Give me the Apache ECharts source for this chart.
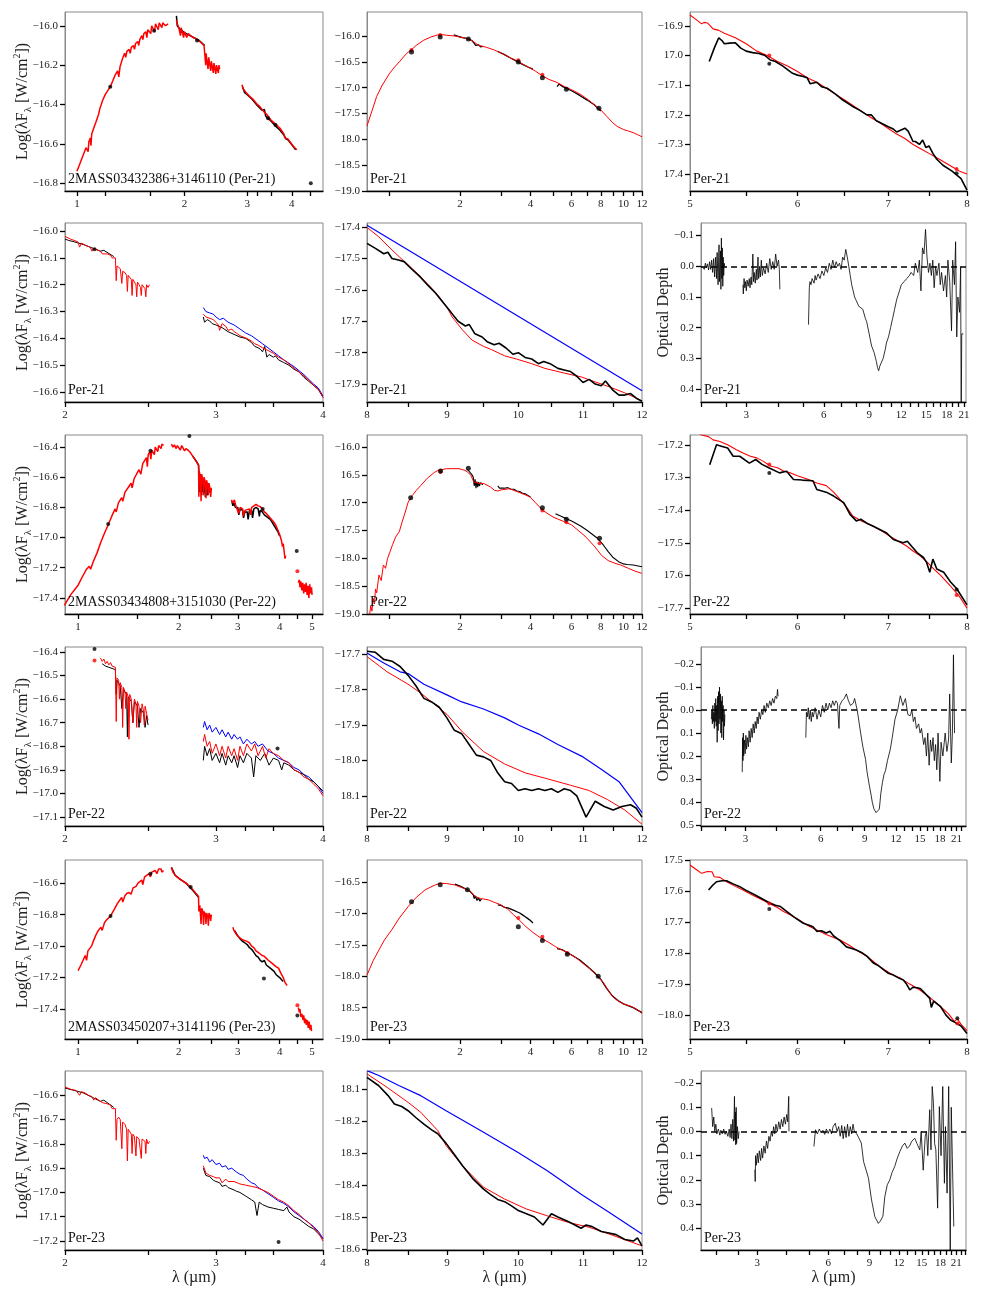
<!DOCTYPE html>
<html>
<head>
<meta charset="utf-8">
<script src="https://cdn.jsdelivr.net/npm/echarts@6/dist/echarts.min.js"></script>
<style>html,body{margin:0;padding:0;background:#fff}#chart{width:981px;height:1297px}</style>
</head>
<body>
<div id="chart"></div>
<script>
// x tick positions / labels (micron)
var nirTicks = [1, 1.2, 1.6, 2, 3, 3.2, 3.5, 4, 4.5];
var nirLabels = [1, 2, 3, 4];
var nir5Ticks = [1, 1.5, 2, 2.5, 3, 4, 4.5, 5];
var nir5Labels = [1, 2, 3, 4, 5];
var sedTicks = [1, 2, 3, 4, 5, 6, 7, 8, 9, 10, 11, 12];
var sedLabels = [2, 4, 6, 8, 10, 12];
var lmTicks = [2, 2.5, 3, 3.25, 3.5, 4];
var lmLabels = [2, 3, 4];
var siTicks = [8, 8.5, 9, 9.5, 10, 10.5, 11, 11.5, 12];
var siLabels = [8, 9, 10, 11, 12];
var mirTicks = [5, 5.5, 6, 6.5, 7, 7.5, 8];
var mirLabels = [5, 6, 7, 8];
var tauTicks = [2, 2.5, 3, 4, 5, 6, 7, 8, 9, 10, 11, 12, 13, 14, 15, 16, 17, 18, 19, 20, 21, 22, 23];
var tauLabels = [3, 6, 9, 12, 15, 18, 21];

var tags = ['2MASS03432386+3146110 (Per-21)', 'Per-21', '2MASS03434808+3151030 (Per-22)', 'Per-22',
            '2MASS03450207+3141196 (Per-23)', 'Per-23'];

// ===== Per-21 =====
var p21NirRed = [
  [1.00,-16.74, 1.02,-16.70, 1.04,-16.66, 1.05,-16.64, 1.06,-16.62, 1.07,-16.61, 1.075,-16.64, 1.08,-16.59, 1.09,-16.57, 1.095,-16.61,
   1.10,-16.55, 1.11,-16.53, 1.12,-16.51, 1.13,-16.49, 1.14,-16.47, 1.15,-16.45, 1.16,-16.42, 1.17,-16.40, 1.18,-16.38, 1.19,-16.37,
   1.20,-16.35, 1.22,-16.33, 1.24,-16.31, 1.26,-16.28, 1.28,-16.25, 1.30,-16.23, 1.31,-16.26, 1.32,-16.21, 1.33,-16.19, 1.34,-16.17,
   1.35,-16.155, 1.36,-16.14, 1.37,-16.16, 1.38,-16.13, 1.40,-16.12, 1.41,-16.14, 1.42,-16.11, 1.44,-16.10, 1.45,-16.12, 1.46,-16.09,
   1.48,-16.08, 1.49,-16.10, 1.50,-16.07, 1.52,-16.05, 1.53,-16.07, 1.54,-16.04, 1.56,-16.03, 1.57,-16.06, 1.58,-16.02, 1.60,-16.01,
   1.61,-16.04, 1.62,-16.00, 1.64,-15.99, 1.65,-16.03, 1.66,-15.99, 1.68,-15.985, 1.69,-16.02, 1.70,-15.985, 1.72,-15.98, 1.73,-16.01,
   1.74,-15.985, 1.76,-15.98, 1.77,-16.0, 1.78,-15.99, 1.80,-15.99],
  [1.90,-15.97, 1.91,-15.99, 1.92,-16.0, 1.93,-16.01, 1.94,-16.0, 1.95,-16.05, 1.96,-16.01, 1.98,-16.02, 1.99,-16.06, 2.0,-16.03,
   2.02,-16.035, 2.03,-16.06, 2.05,-16.04, 2.08,-16.05, 2.10,-16.055, 2.12,-16.06, 2.15,-16.065, 2.18,-16.075, 2.21,-16.08, 2.24,-16.09,
   2.27,-16.10, 2.29,-16.105, 2.295,-16.20, 2.30,-16.14, 2.32,-16.15, 2.33,-16.22, 2.34,-16.16, 2.36,-16.17, 2.37,-16.23, 2.38,-16.18,
   2.40,-16.19, 2.41,-16.24, 2.42,-16.19, 2.44,-16.20, 2.45,-16.245, 2.46,-16.20, 2.48,-16.21, 2.49,-16.24, 2.50,-16.20, 2.51,-16.22],
  [2.90,-16.30, 2.92,-16.32, 2.95,-16.33, 2.98,-16.34, 3.0,-16.345, 3.05,-16.36, 3.08,-16.365, 3.1,-16.37, 3.15,-16.385, 3.2,-16.40,
   3.25,-16.41, 3.3,-16.425, 3.35,-16.44, 3.4,-16.45, 3.45,-16.465, 3.5,-16.48, 3.55,-16.49, 3.6,-16.5, 3.65,-16.51, 3.7,-16.52,
   3.75,-16.535, 3.8,-16.55, 3.82,-16.57, 3.85,-16.56, 3.9,-16.575, 3.95,-16.59, 4.0,-16.60, 4.05,-16.615, 4.1,-16.625, 4.13,-16.63]
];
var p21NirBlack = [
  [1.90,-15.95, 1.91,-16.0, 1.95,-16.02, 2.0,-16.035, 2.1,-16.055, 2.2,-16.075, 2.28,-16.10],
  [2.91,-16.31, 2.95,-16.34, 3.0,-16.35, 3.1,-16.375, 3.2,-16.405, 3.3,-16.43, 3.35,-16.425, 3.38,-16.46, 3.42,-16.47, 3.45,-16.475,
   3.5,-16.485, 3.6,-16.51, 3.7,-16.53, 3.8,-16.555, 3.85,-16.575, 3.9,-16.58, 4.0,-16.605, 4.1,-16.63]
];
var p21NirDots = [1.24,-16.31, 1.645,-16.025, 2.17,-16.075, 3.43,-16.47, 3.6,-16.505, 4.52,-16.80];

var p21SedRed = [0.80,-17.74, 0.84,-17.45, 0.88,-17.17, 0.93,-16.95, 1.0,-16.72, 1.05,-16.60, 1.1,-16.50, 1.18,-16.34, 1.25,-16.25,
  1.3,-16.18, 1.4,-16.08, 1.5,-16.02, 1.6,-15.98, 1.66,-15.97, 1.75,-15.985, 1.9,-16.0, 2.0,-16.02, 2.1,-16.04, 2.2,-16.065, 2.3,-16.12,
  2.4,-16.18, 2.5,-16.2, 2.6,-16.22, 2.8,-16.27, 3.0,-16.33, 3.2,-16.40, 3.5,-16.48, 3.8,-16.57, 4.0,-16.625, 4.2,-16.68, 4.5,-16.77,
  4.8,-16.84, 5.2,-16.90, 5.6,-16.98, 6.0,-17.04, 6.5,-17.12, 7.0,-17.22, 7.5,-17.33, 8.0,-17.43, 8.5,-17.56, 9.0,-17.68, 9.4,-17.75,
  10.0,-17.81, 10.5,-17.84, 11.0,-17.87, 11.5,-17.91, 12.0,-17.95];
var p21SedBlack = [
  [1.88,-15.98, 1.95,-16.0, 2.05,-16.03, 2.15,-16.05, 2.25,-16.09, 2.3,-16.14, 2.33,-16.18, 2.36,-16.2, 2.4,-16.17, 2.45,-16.21, 2.5,-16.2],
  [2.9,-16.3, 3.1,-16.36, 3.3,-16.43, 3.5,-16.49, 3.7,-16.55, 3.9,-16.6, 4.1,-16.64],
  [5.2,-16.98, 5.3,-16.93, 5.5,-16.98, 6.0,-17.06, 6.5,-17.15, 7.0,-17.24, 7.5,-17.33, 8.0,-17.45]
];
var p21SedDots = [1.24,-16.31, 1.645,-16.02, 2.17,-16.06, 3.55,-16.505, 4.5,-16.81, 5.7,-17.03, 7.85,-17.40];
var p21SedModelDots = [1.24,-16.27, 1.645,-15.98, 3.55,-16.47, 4.5,-16.75];

var p21MirRed = [5.0,-16.863, 5.05,-16.878, 5.1,-16.893, 5.12,-16.888, 5.15,-16.89, 5.2,-16.91, 5.25,-16.915, 5.3,-16.925, 5.4,-16.94,
  5.5,-16.96, 5.6,-16.985, 5.7,-17.0, 5.8,-17.02, 5.9,-17.035, 6.0,-17.054, 6.1,-17.075, 6.2,-17.09, 6.3,-17.11, 6.4,-17.13, 6.5,-17.15,
  6.6,-17.17, 6.7,-17.19, 6.8,-17.21, 6.9,-17.227, 7.0,-17.246, 7.1,-17.265, 7.2,-17.28, 7.3,-17.30, 7.4,-17.315, 7.5,-17.33, 7.6,-17.345,
  7.7,-17.36, 7.8,-17.375, 7.9,-17.39, 8.0,-17.40];
var p21MirBlack = [5.166,-17.02, 5.21,-16.975, 5.25,-16.94, 5.28,-16.95, 5.3,-16.96, 5.35,-16.958, 5.4,-16.957, 5.45,-16.975, 5.5,-16.985,
  5.56,-16.99, 5.62,-16.993, 5.68,-17.0, 5.73,-17.015, 5.78,-17.02, 5.85,-17.035, 5.89,-17.045, 5.95,-17.06, 6.0,-17.066, 6.05,-17.07,
  6.1,-17.075, 6.13,-17.095, 6.2,-17.09, 6.25,-17.105, 6.31,-17.11, 6.4,-17.13, 6.48,-17.15, 6.58,-17.17, 6.67,-17.185, 6.75,-17.2,
  6.8,-17.2, 6.86,-17.22, 6.93,-17.23, 7.0,-17.24, 7.06,-17.248, 7.1,-17.258, 7.16,-17.25, 7.2,-17.245, 7.24,-17.255, 7.3,-17.29,
  7.33,-17.29, 7.38,-17.3, 7.42,-17.285, 7.46,-17.31, 7.5,-17.305, 7.55,-17.33, 7.6,-17.35, 7.68,-17.37, 7.8,-17.39, 7.92,-17.415, 8.0,-17.454];
var p21MirDots = [5.72,-17.028, 7.86,-17.397];
var p21MirModelDots = [5.72,-17.0, 7.86,-17.383];

var p21LmRed = [
  [2.0,-16.02, 2.03,-16.03, 2.05,-16.035, 2.07,-16.04, 2.08,-16.06, 2.09,-16.045, 2.1,-16.05, 2.12,-16.055, 2.14,-16.06, 2.15,-16.075,
   2.16,-16.065, 2.18,-16.07, 2.2,-16.075, 2.21,-16.085, 2.22,-16.08, 2.24,-16.085, 2.26,-16.09, 2.27,-16.1, 2.28,-16.095, 2.29,-16.1,
   2.295,-16.185, 2.30,-16.13, 2.31,-16.135, 2.32,-16.14, 2.33,-16.195, 2.335,-16.15, 2.35,-16.155, 2.36,-16.165, 2.365,-16.225, 2.37,-16.165,
   2.38,-16.17, 2.39,-16.18, 2.395,-16.24, 2.40,-16.18, 2.41,-16.19, 2.42,-16.2, 2.425,-16.245, 2.43,-16.19, 2.44,-16.2, 2.45,-16.21,
   2.455,-16.24, 2.46,-16.2, 2.47,-16.205, 2.48,-16.215, 2.485,-16.245, 2.49,-16.2, 2.5,-16.21, 2.51,-16.2],
  [2.9,-16.31, 2.92,-16.32, 2.95,-16.325, 2.98,-16.33, 3.0,-16.34, 3.02,-16.35, 3.03,-16.37, 3.05,-16.345, 3.08,-16.355, 3.1,-16.37,
   3.13,-16.365, 3.15,-16.375, 3.17,-16.38, 3.2,-16.39, 3.23,-16.395, 3.26,-16.4, 3.3,-16.41, 3.33,-16.42, 3.36,-16.425, 3.4,-16.435,
   3.45,-16.445, 3.5,-16.455, 3.55,-16.47, 3.6,-16.48, 3.65,-16.495, 3.7,-16.51, 3.75,-16.525, 3.8,-16.54, 3.85,-16.555, 3.9,-16.575,
   3.92,-16.58, 3.95,-16.59, 3.97,-16.6, 4.0,-16.62]
];
var p21LmBlue = [2.9,-16.285, 2.92,-16.30, 2.95,-16.305, 2.98,-16.31, 3.0,-16.32, 3.03,-16.33, 3.06,-16.325, 3.1,-16.34, 3.15,-16.35,
  3.2,-16.365, 3.25,-16.38, 3.3,-16.39, 3.35,-16.405, 3.4,-16.42, 3.45,-16.435, 3.5,-16.45, 3.55,-16.465, 3.6,-16.48, 3.7,-16.505,
  3.8,-16.535, 3.9,-16.57, 3.95,-16.585, 4.0,-16.615];
var p21LmBlack = [
  [2.0,-16.03, 2.02,-16.035, 2.05,-16.04, 2.1,-16.05, 2.2,-16.075, 2.22,-16.072, 2.28,-16.095],
  [2.9,-16.32, 2.91,-16.34, 2.93,-16.33, 2.95,-16.335, 2.97,-16.345, 3.0,-16.35, 3.05,-16.36, 3.1,-16.375, 3.15,-16.385, 3.2,-16.395,
   3.25,-16.4, 3.3,-16.415, 3.33,-16.43, 3.36,-16.435, 3.38,-16.44, 3.4,-16.45, 3.42,-16.43, 3.44,-16.47, 3.46,-16.46, 3.5,-16.47,
   3.52,-16.465, 3.55,-16.48, 3.6,-16.49, 3.65,-16.5, 3.7,-16.515, 3.75,-16.525, 3.8,-16.545, 3.85,-16.56, 3.9,-16.575, 3.92,-16.57,
   3.95,-16.59, 4.0,-16.62]
];
var p21LmDots = [2.165,-16.068];

var p21SiBlue = [8.0,-17.394, 12.0,-17.921];
var p21SiRed = [8.0,-17.401, 8.14,-17.431, 8.25,-17.46, 8.39,-17.495, 8.5,-17.52, 8.66,-17.558, 8.8,-17.595, 8.88,-17.616, 9.0,-17.655,
  9.07,-17.686, 9.2,-17.725, 9.34,-17.76, 9.5,-17.78, 9.61,-17.79, 9.8,-17.81, 9.97,-17.82, 10.2,-17.835, 10.4,-17.85, 10.7,-17.865,
  10.97,-17.877, 11.2,-17.893, 11.44,-17.909, 11.7,-17.928, 12.0,-17.953];
var p21SiBlack = [8.0,-17.452, 8.1,-17.468, 8.2,-17.485, 8.25,-17.48, 8.3,-17.5, 8.38,-17.505, 8.45,-17.51, 8.55,-17.535, 8.65,-17.558,
  8.75,-17.585, 8.85,-17.61, 8.95,-17.64, 9.05,-17.67, 9.15,-17.70, 9.25,-17.715, 9.3,-17.71, 9.38,-17.74, 9.48,-17.75, 9.55,-17.765,
  9.65,-17.775, 9.72,-17.77, 9.82,-17.785, 9.92,-17.805, 10.0,-17.8, 10.1,-17.815, 10.2,-17.82, 10.3,-17.835, 10.38,-17.828,
  10.48,-17.835, 10.6,-17.85, 10.7,-17.855, 10.8,-17.86, 10.9,-17.875, 11.0,-17.895, 11.1,-17.885, 11.2,-17.9, 11.3,-17.905,
  11.37,-17.89, 11.5,-17.92, 11.6,-17.935, 11.7,-17.935, 11.8,-17.93, 11.9,-17.945, 12.0,-17.955];

var p21Tau = [
  [2.02,0.0, 2.04,-0.005, 2.06,0.01, 2.08,-0.01, 2.1,0.005, 2.12,-0.008, 2.14,0.012, 2.16,-0.015, 2.18,0.01, 2.2,-0.02, 2.22,0.02,
   2.24,-0.025, 2.26,0.035, 2.28,-0.03, 2.3,0.04, 2.31,-0.045, 2.33,0.06, 2.35,-0.07, 2.36,0.05, 2.38,-0.05, 2.39,0.075, 2.4,-0.092,
   2.41,0.04, 2.42,-0.06, 2.43,0.065, 2.44,-0.03, 2.45,0.03, 2.46,-0.01, 2.47,0.0],
  [2.91,0.06, 2.92,0.09, 2.94,0.04, 2.96,0.07, 2.98,0.05, 3.0,0.08, 3.02,0.045, 3.05,0.065, 3.08,0.04, 3.1,0.07, 3.13,0.035, 3.15,0.06,
   3.18,-0.04, 3.2,0.05, 3.22,0.02, 3.25,0.055, 3.28,0.01, 3.3,0.045, 3.33,-0.03, 3.35,0.04, 3.38,0.0, 3.4,0.035, 3.43,-0.02, 3.46,0.03,
   3.5,0.005, 3.55,0.025, 3.6,-0.01, 3.65,0.02, 3.7,-0.025, 3.75,0.01, 3.8,-0.015, 3.85,0.01, 3.9,-0.04, 3.95,0.0, 4.0,-0.02, 4.03,0.01, 4.05,0.075],
  [5.23,0.19, 5.27,0.07, 5.3,0.05, 5.35,0.06, 5.4,0.04, 5.5,0.055, 5.55,0.03, 5.6,0.045, 5.7,0.025, 5.8,0.04, 5.9,0.015, 6.0,0.03,
   6.1,0.005, 6.2,0.02, 6.3,-0.01, 6.4,0.01, 6.5,-0.02, 6.6,0.005, 6.7,-0.015, 6.8,0.0, 6.9,-0.01, 7.0,0.01, 7.1,-0.03, 7.2,-0.02,
   7.3,-0.055, 7.4,-0.03, 7.5,0.0, 7.6,0.03, 7.7,0.06, 7.8,0.08, 7.9,0.1, 8.0,0.11, 8.1,0.12, 8.2,0.13, 8.3,0.125, 8.5,0.14, 8.7,0.17,
   8.8,0.18, 9.0,0.22, 9.2,0.26, 9.4,0.28, 9.6,0.31, 9.7,0.33, 9.8,0.34, 9.9,0.325, 10.0,0.33, 10.2,0.3, 10.4,0.27, 10.5,0.25, 10.7,0.23,
   10.9,0.2, 11.1,0.17, 11.3,0.14, 11.5,0.11, 11.8,0.08, 12.0,0.06, 12.3,0.05, 12.6,0.04, 12.9,0.03, 13.1,0.02, 13.4,0.03, 13.6,-0.01,
   13.9,0.02, 14.1,-0.02, 14.3,0.08, 14.5,-0.06, 14.7,-0.04, 14.9,-0.12, 15.1,-0.03, 15.3,0.02, 15.5,-0.01, 15.7,0.03, 15.9,-0.02,
   16.1,0.07, 16.3,0.0, 16.5,0.03, 16.8,-0.01, 17.0,0.06, 17.2,0.02, 17.5,0.08, 17.8,0.03, 18.0,0.1, 18.2,-0.02, 18.5,0.05, 18.8,0.21,
   19.0,-0.02, 19.3,0.06, 19.5,-0.08, 19.7,0.23, 19.9,0.1, 20.2,0.15, 20.4,0.0, 20.5,0.5, 20.6,0.22, 20.9,0.22]
];

// ===== Per-22 =====
var p22NirRed = [
  [0.91,-17.45, 0.95,-17.38, 1.0,-17.316, 1.03,-17.26, 1.06,-17.21, 1.08,-17.19, 1.09,-17.21, 1.11,-17.16, 1.14,-17.1, 1.17,-17.03,
   1.2,-16.97, 1.23,-16.915, 1.26,-16.86, 1.29,-16.81, 1.3,-16.83, 1.32,-16.77, 1.35,-16.735, 1.36,-16.76, 1.38,-16.7, 1.41,-16.67,
   1.44,-16.64, 1.45,-16.67, 1.47,-16.61, 1.49,-16.6, 1.52,-16.55, 1.54,-16.58, 1.56,-16.51, 1.58,-16.49, 1.6,-16.47, 1.61,-16.53,
   1.62,-16.45, 1.64,-16.43, 1.65,-16.48, 1.66,-16.42, 1.68,-16.41, 1.69,-16.45, 1.7,-16.4, 1.72,-16.4, 1.73,-16.43, 1.74,-16.39,
   1.76,-16.385, 1.77,-16.41, 1.78,-16.38, 1.8,-16.39],
  [1.9,-16.38, 1.92,-16.4, 1.94,-16.385, 1.96,-16.41, 1.98,-16.39, 2.0,-16.395, 2.02,-16.42, 2.04,-16.39, 2.06,-16.4, 2.08,-16.425,
   2.1,-16.41, 2.13,-16.42, 2.15,-16.43, 2.17,-16.44, 2.2,-16.46, 2.23,-16.48, 2.26,-16.5, 2.29,-16.52, 2.295,-16.73, 2.3,-16.56,
   2.32,-16.6, 2.33,-16.76, 2.34,-16.58, 2.36,-16.62, 2.37,-16.72, 2.38,-16.6, 2.4,-16.64, 2.41,-16.74, 2.42,-16.62, 2.44,-16.66,
   2.45,-16.72, 2.46,-16.64, 2.48,-16.68, 2.49,-16.73, 2.5,-16.67],
  [2.87,-16.75, 2.9,-16.77, 2.93,-16.75, 2.96,-16.79, 3.0,-16.79, 3.02,-16.84, 3.05,-16.8, 3.1,-16.81, 3.12,-16.86, 3.15,-16.82,
   3.2,-16.815, 3.25,-16.81, 3.28,-16.85, 3.3,-16.8, 3.35,-16.79, 3.4,-16.78, 3.45,-16.79, 3.5,-16.795, 3.55,-16.81, 3.6,-16.83,
   3.65,-16.84, 3.7,-16.855, 3.75,-16.87, 3.8,-16.885, 3.85,-16.9, 3.9,-16.92, 3.95,-16.95, 4.0,-16.98, 4.05,-17.02, 4.08,-17.06,
   4.1,-17.04, 4.13,-17.1, 4.15,-17.14, 4.17,-17.12],
  [4.55,-17.3, 4.58,-17.28, 4.6,-17.33, 4.63,-17.29, 4.66,-17.35, 4.69,-17.3, 4.72,-17.37, 4.75,-17.31, 4.78,-17.36, 4.8,-17.3,
   4.83,-17.38, 4.86,-17.32, 4.89,-17.4, 4.92,-17.31, 4.95,-17.37, 4.98,-17.33, 5.0,-17.38]
];
var p22NirBlack = [
  [2.2,-16.46, 2.25,-16.49, 2.29,-16.52, 2.3,-16.6, 2.31,-16.7, 2.32,-16.58, 2.34,-16.72, 2.35,-16.6, 2.37,-16.7, 2.38,-16.61,
   2.4,-16.73, 2.42,-16.63, 2.43,-16.72, 2.45,-16.64, 2.47,-16.7, 2.5,-16.68],
  [2.88,-16.76, 2.9,-16.79, 2.92,-16.77, 2.95,-16.8, 3.0,-16.8, 3.02,-16.85, 3.05,-16.81, 3.1,-16.82, 3.12,-16.87, 3.15,-16.83,
   3.2,-16.83, 3.22,-16.88, 3.25,-16.82, 3.3,-16.82, 3.32,-16.87, 3.35,-16.81, 3.4,-16.8, 3.45,-16.81, 3.48,-16.86, 3.5,-16.82,
   3.55,-16.83, 3.6,-16.85, 3.65,-16.86, 3.7,-16.87, 3.75,-16.88, 3.8,-16.9, 3.85,-16.92, 3.9,-16.94, 3.95,-16.96, 4.0,-16.99]
];
var p22NirDots = [1.23,-16.91, 1.645,-16.425, 2.15,-16.326, 3.56,-16.81, 4.5,-17.09];
var p22NirModelDots = [4.52,-17.223];

var p22SedRed = [0.81,-19.2, 0.83,-18.85, 0.84,-18.95, 0.85,-18.72, 0.86,-18.82, 0.87,-18.55, 0.88,-18.62, 0.9,-18.3, 0.92,-18.4,
  0.94,-18.12, 0.96,-18.18, 0.98,-18.0, 1.0,-17.9, 1.03,-17.75, 1.06,-17.62, 1.1,-17.52, 1.13,-17.35, 1.16,-17.2, 1.2,-16.99,
  1.25,-16.87, 1.3,-16.78, 1.36,-16.69, 1.45,-16.56, 1.55,-16.46, 1.61,-16.42, 1.75,-16.39, 1.98,-16.39, 2.1,-16.42, 2.15,-16.45,
  2.22,-16.5, 2.29,-16.63, 2.4,-16.65, 2.54,-16.66, 2.7,-16.72, 2.81,-16.78, 2.9,-16.79, 3.0,-16.77, 3.25,-16.75, 3.5,-16.8,
  3.8,-16.86, 3.99,-16.9, 4.2,-17.0, 4.52,-17.14, 5.0,-17.26, 5.56,-17.34, 6.0,-17.4, 6.84,-17.6, 7.5,-17.78, 8.07,-17.95,
  8.6,-18.04, 9.2,-18.09, 9.73,-18.12, 10.5,-18.18, 11.2,-18.23, 11.97,-18.27];
var p22SedBlack = [
  [2.15,-16.4, 2.2,-16.45, 2.25,-16.5, 2.28,-16.55, 2.3,-16.7, 2.32,-16.58, 2.34,-16.74, 2.36,-16.62, 2.38,-16.72, 2.4,-16.63,
   2.42,-16.7, 2.45,-16.64, 2.5,-16.68],
  [2.9,-16.7, 2.95,-16.74, 3.0,-16.72, 3.1,-16.74, 3.2,-16.73, 3.3,-16.76, 3.4,-16.76, 3.5,-16.79, 3.6,-16.8, 3.7,-16.83, 3.8,-16.84,
   3.9,-16.87, 4.0,-16.9],
  [5.12,-17.2, 5.5,-17.26, 6.0,-17.33, 6.56,-17.42, 7.0,-17.5, 7.74,-17.64, 8.2,-17.76, 8.6,-17.88, 9.0,-17.98, 9.53,-18.06,
   10.0,-18.1, 10.35,-18.11, 11.0,-18.12, 12.0,-18.15]
];
var p22SedDots = [1.23,-16.91, 1.65,-16.43, 2.17,-16.38, 4.5,-17.09, 5.7,-17.30, 7.9,-17.64];
var p22SedModelDots = [1.65,-16.45, 4.5,-17.14, 5.7,-17.35, 7.9,-17.73];

var p22MirRed = [5.0,-17.15, 5.1,-17.17, 5.16,-17.175, 5.2,-17.185, 5.26,-17.19, 5.33,-17.2, 5.41,-17.215, 5.47,-17.225, 5.54,-17.235,
  5.6,-17.24, 5.66,-17.25, 5.73,-17.265, 5.8,-17.27, 5.86,-17.28, 5.93,-17.286, 6.0,-17.295, 6.1,-17.305, 6.2,-17.317, 6.3,-17.325,
  6.38,-17.345, 6.45,-17.367, 6.52,-17.39, 6.59,-17.418, 6.7,-17.435, 6.83,-17.45, 6.93,-17.465, 7.02,-17.48, 7.12,-17.495, 7.22,-17.51,
  7.3,-17.525, 7.39,-17.54, 7.48,-17.56, 7.56,-17.58, 7.65,-17.6, 7.77,-17.63, 7.9,-17.665, 8.0,-17.7];
var p22MirBlack = [5.17,-17.261, 5.23,-17.2, 5.28,-17.205, 5.33,-17.21, 5.38,-17.235, 5.44,-17.235, 5.53,-17.256, 5.59,-17.245,
  5.65,-17.26, 5.72,-17.271, 5.82,-17.286, 5.89,-17.281, 5.96,-17.306, 6.05,-17.308, 6.16,-17.31, 6.2,-17.337, 6.3,-17.345, 6.38,-17.357,
  6.49,-17.377, 6.56,-17.413, 6.63,-17.433, 6.68,-17.428, 6.75,-17.44, 6.83,-17.45, 6.98,-17.47, 7.06,-17.49, 7.12,-17.495, 7.18,-17.5,
  7.23,-17.495, 7.28,-17.51, 7.35,-17.53, 7.43,-17.545, 7.47,-17.56, 7.51,-17.59, 7.55,-17.55, 7.6,-17.58, 7.69,-17.59, 7.78,-17.62,
  7.86,-17.64, 8.0,-17.69];
var p22MirDots = [5.72,-17.286, 7.86,-17.643];
var p22MirModelDots = [5.72,-17.26, 7.86,-17.66];

var p22LmRed = [
  [2.2,-16.426, 2.21,-16.44, 2.22,-16.43, 2.23,-16.45, 2.24,-16.44, 2.25,-16.455, 2.26,-16.445, 2.27,-16.46, 2.28,-16.455, 2.29,-16.465,
   2.295,-16.695, 2.3,-16.51, 2.31,-16.52, 2.315,-16.6, 2.32,-16.53, 2.33,-16.55, 2.335,-16.72, 2.34,-16.55, 2.35,-16.57, 2.355,-16.64,
   2.36,-16.57, 2.37,-16.59, 2.375,-16.77, 2.38,-16.58, 2.39,-16.6, 2.4,-16.7, 2.41,-16.6, 2.42,-16.62, 2.425,-16.72, 2.43,-16.61,
   2.44,-16.63, 2.45,-16.7, 2.46,-16.62, 2.47,-16.65, 2.475,-16.71, 2.48,-16.63, 2.49,-16.66, 2.5,-16.69],
  [2.9,-16.78, 2.91,-16.75, 2.93,-16.8, 2.95,-16.78, 2.97,-16.83, 3.0,-16.79, 3.03,-16.84, 3.05,-16.8, 3.08,-16.85, 3.1,-16.8,
   3.13,-16.84, 3.15,-16.81, 3.18,-16.86, 3.2,-16.8, 3.23,-16.84, 3.26,-16.79, 3.3,-16.82, 3.33,-16.79, 3.36,-16.84, 3.4,-16.8,
   3.43,-16.85, 3.46,-16.81, 3.5,-16.83, 3.55,-16.84, 3.6,-16.86, 3.65,-16.87, 3.7,-16.9, 3.75,-16.91, 3.8,-16.93, 3.85,-16.94,
   3.9,-16.96, 3.95,-16.98, 4.0,-17.01]
];
var p22LmBlue = [2.9,-16.72, 2.91,-16.695, 2.93,-16.73, 2.95,-16.71, 2.97,-16.74, 3.0,-16.72, 3.03,-16.75, 3.05,-16.73, 3.08,-16.76,
  3.1,-16.74, 3.13,-16.77, 3.15,-16.75, 3.18,-16.77, 3.2,-16.76, 3.23,-16.79, 3.26,-16.77, 3.3,-16.79, 3.33,-16.78, 3.36,-16.8,
  3.4,-16.79, 3.45,-16.82, 3.5,-16.83, 3.55,-16.85, 3.6,-16.86, 3.65,-16.87, 3.7,-16.89, 3.75,-16.9, 3.8,-16.92, 3.85,-16.93,
  3.9,-16.95, 3.95,-16.97, 4.0,-17.0];
var p22LmBlack = [
  [2.21,-16.45, 2.23,-16.46, 2.25,-16.465, 2.27,-16.47, 2.29,-16.475, 2.295,-16.58, 2.3,-16.52, 2.32,-16.545, 2.33,-16.64, 2.34,-16.56,
   2.36,-16.58, 2.365,-16.76, 2.37,-16.59, 2.39,-16.61, 2.4,-16.7, 2.41,-16.61, 2.43,-16.63, 2.44,-16.72, 2.45,-16.64, 2.47,-16.66,
   2.48,-16.72, 2.49,-16.67, 2.5,-16.71],
  [2.9,-16.86, 2.91,-16.8, 2.93,-16.84, 2.95,-16.81, 2.97,-16.86, 3.0,-16.83, 3.03,-16.87, 3.05,-16.83, 3.08,-16.88, 3.1,-16.84,
   3.13,-16.87, 3.15,-16.84, 3.18,-16.89, 3.2,-16.84, 3.23,-16.87, 3.26,-16.83, 3.3,-16.85, 3.32,-16.93, 3.34,-16.84, 3.38,-16.86,
   3.42,-16.83, 3.46,-16.88, 3.5,-16.85, 3.55,-16.86, 3.58,-16.9, 3.6,-16.87, 3.65,-16.88, 3.7,-16.9, 3.75,-16.91, 3.8,-16.92,
   3.85,-16.94, 3.9,-16.95, 3.95,-16.97, 4.0,-16.99]
];
var p22LmDots = [2.165,-16.387, 3.54,-16.809];
var p22LmModelDots = [2.165,-16.436];

var p22SiBlue = [8.0,-17.697, 8.2,-17.725, 8.4,-17.75, 8.5,-17.755, 8.7,-17.785, 9.0,-17.815, 9.2,-17.835, 9.5,-17.855, 9.8,-17.88,
  10.0,-17.9, 10.3,-17.925, 10.6,-17.955, 11.0,-17.99, 11.3,-18.025, 11.6,-18.06, 12.0,-18.147];
var p22SiRed = [8.0,-17.707, 8.24,-17.75, 8.5,-17.785, 8.66,-17.81, 9.0,-17.87, 9.21,-17.92, 9.5,-17.975, 9.8,-18.01, 10.1,-18.035,
  10.4,-18.05, 10.8,-18.07, 11.1,-18.085, 11.4,-18.11, 11.7,-18.14, 12.0,-18.18];
var p22SiBlack = [8.0,-17.692, 8.1,-17.695, 8.2,-17.715, 8.3,-17.72, 8.4,-17.735, 8.5,-17.76, 8.6,-17.79, 8.7,-17.825, 8.8,-17.835,
  8.9,-17.85, 9.0,-17.88, 9.1,-17.915, 9.2,-17.925, 9.3,-17.955, 9.4,-17.985, 9.5,-17.99, 9.6,-18.0, 9.7,-18.035, 9.8,-18.06,
  9.9,-18.065, 10.0,-18.085, 10.1,-18.08, 10.2,-18.085, 10.3,-18.08, 10.4,-18.085, 10.5,-18.08, 10.6,-18.09, 10.7,-18.08, 10.8,-18.085,
  10.9,-18.1, 11.05,-18.16, 11.2,-18.115, 11.35,-18.13, 11.5,-18.14, 11.65,-18.13, 11.8,-18.125, 11.9,-18.135, 12.0,-18.16];

var p22Tau = [
  [2.19,0.04, 2.2,0.0, 2.21,0.06, 2.22,-0.02, 2.23,0.05, 2.24,0.01, 2.25,0.08, 2.26,-0.03, 2.27,0.05, 2.28,-0.05, 2.29,0.07, 2.3,-0.02,
   2.31,0.14, 2.32,-0.06, 2.33,0.09, 2.34,-0.08, 2.35,0.06, 2.36,-0.1, 2.37,0.04, 2.38,-0.07, 2.39,0.1, 2.4,-0.04, 2.41,0.12,
   2.42,-0.06, 2.43,0.05, 2.44,-0.02, 2.45,0.13, 2.46,0.0, 2.47,0.07, 2.48,0.02],
  [2.91,0.27, 2.92,0.12, 2.93,0.22, 2.94,0.1, 2.95,0.2, 2.97,0.13, 2.99,0.19, 3.01,0.11, 3.03,0.17, 3.05,0.12, 3.08,0.16, 3.1,0.09,
   3.13,0.14, 3.16,0.08, 3.19,0.12, 3.22,0.06, 3.25,0.1, 3.28,0.05, 3.31,0.08, 3.34,0.03, 3.37,0.06, 3.4,0.01, 3.44,0.04, 3.48,0.0,
   3.52,0.02, 3.56,-0.02, 3.6,0.01, 3.65,-0.03, 3.7,-0.01, 3.75,-0.04, 3.8,-0.02, 3.85,-0.05, 3.9,-0.03, 3.95,-0.06, 4.0,-0.05,
   4.03,-0.09, 4.05,-0.06],
  [5.23,0.12, 5.26,0.01, 5.3,0.03, 5.35,-0.01, 5.4,0.04, 5.45,0.0, 5.5,0.05, 5.55,0.01, 5.6,0.03, 5.7,-0.01, 5.8,0.04, 5.9,0.0,
   6.0,0.03, 6.1,-0.02, 6.2,0.01, 6.3,-0.03, 6.4,0.0, 6.5,-0.03, 6.6,-0.01, 6.7,-0.04, 6.8,-0.02, 6.9,-0.04, 7.0,-0.03, 7.1,0.08,
   7.15,-0.02, 7.3,-0.04, 7.45,-0.05, 7.6,-0.07, 7.75,-0.04, 7.9,-0.02, 8.1,-0.03, 8.2,-0.05, 8.4,0.0, 8.67,0.1, 8.85,0.16, 9.07,0.214,
   9.2,0.27, 9.4,0.33, 9.55,0.37, 9.65,0.40, 9.8,0.43, 10.0,0.446, 10.15,0.45, 10.3,0.43, 10.45,0.36, 10.6,0.315, 10.75,0.28,
   10.9,0.264, 11.1,0.22, 11.4,0.17, 11.6,0.12, 11.9,0.04, 12.2,0.0, 12.5,-0.062, 12.8,-0.02, 13.1,-0.05, 13.4,0.02, 13.7,0.025,
   13.9,0.0, 14.1,0.05, 14.3,0.03, 14.5,0.08, 14.8,0.06, 15.0,0.1, 15.2,0.08, 15.5,0.15, 15.7,0.12, 15.9,0.2, 16.1,0.1, 16.3,0.24,
   16.5,0.13, 16.7,0.18, 16.9,0.12, 17.1,0.22, 17.3,0.15, 17.5,0.26, 17.7,0.1, 18.0,0.31, 18.2,0.14, 18.5,0.2, 18.9,0.1, 19.2,0.18,
   19.5,0.13, 19.7,-0.07, 20.0,0.23, 20.2,0.1, 20.4,-0.24, 20.6,0.1]
];

// ===== Per-23 =====
var p23NirRed = [
  [1.0,-17.156, 1.02,-17.12, 1.04,-17.08, 1.05,-17.06, 1.06,-17.09, 1.07,-17.03, 1.097,-17.0, 1.11,-16.97, 1.13,-16.93, 1.15,-16.9,
   1.17,-16.88, 1.18,-16.9, 1.2,-16.85, 1.22,-16.83, 1.25,-16.81, 1.28,-16.77, 1.31,-16.73, 1.33,-16.71, 1.35,-16.69, 1.36,-16.72,
   1.38,-16.68, 1.4,-16.664, 1.42,-16.66, 1.44,-16.67, 1.46,-16.63, 1.49,-16.62, 1.51,-16.6, 1.53,-16.59, 1.55,-16.58, 1.56,-16.61,
   1.58,-16.56, 1.6,-16.55, 1.63,-16.54, 1.645,-16.56, 1.66,-16.53, 1.7,-16.52, 1.72,-16.54, 1.74,-16.51, 1.77,-16.51, 1.78,-16.53, 1.8,-16.52],
  [1.9,-16.5, 1.92,-16.53, 1.95,-16.55, 1.97,-16.54, 2.0,-16.57, 2.05,-16.585, 2.1,-16.6, 2.15,-16.62, 2.2,-16.64, 2.25,-16.665,
   2.29,-16.685, 2.295,-16.78, 2.31,-16.74, 2.33,-16.86, 2.34,-16.76, 2.36,-16.78, 2.37,-16.865, 2.38,-16.78, 2.4,-16.8, 2.41,-16.86,
   2.42,-16.79, 2.44,-16.81, 2.45,-16.87, 2.46,-16.79, 2.48,-16.81, 2.49,-16.84, 2.5,-16.8],
  [2.9,-16.88, 2.92,-16.9, 2.95,-16.9, 2.98,-16.93, 3.0,-16.93, 3.05,-16.95, 3.1,-16.96, 3.15,-16.965, 3.2,-16.97, 3.25,-16.98, 3.3,-17.0,
   3.35,-17.01, 3.4,-17.03, 3.45,-17.04, 3.5,-17.05, 3.55,-17.06, 3.6,-17.065, 3.64,-17.07, 3.7,-17.09, 3.75,-17.1, 3.8,-17.11,
   3.85,-17.12, 3.9,-17.13, 3.97,-17.14, 4.03,-17.17, 4.1,-17.2, 4.15,-17.23, 4.18,-17.22, 4.21,-17.25],
  [4.55,-17.39, 4.58,-17.42, 4.6,-17.4, 4.63,-17.45, 4.66,-17.43, 4.7,-17.47, 4.72,-17.44, 4.75,-17.49, 4.78,-17.46, 4.81,-17.5,
   4.84,-17.47, 4.87,-17.52, 4.9,-17.48, 4.93,-17.53, 4.96,-17.5, 4.98,-17.54]
];
var p23NirBlack = [
  [1.9,-16.5, 1.95,-16.55, 2.0,-16.57, 2.1,-16.6, 2.2,-16.645, 2.29,-16.69],
  [2.93,-16.9, 2.97,-16.92, 3.0,-16.935, 3.05,-16.955, 3.1,-16.97, 3.15,-16.98, 3.2,-16.99, 3.25,-17.01, 3.3,-17.02, 3.35,-17.04,
   3.4,-17.06, 3.45,-17.07, 3.5,-17.09, 3.55,-17.1, 3.6,-17.09, 3.65,-17.12, 3.7,-17.13, 3.75,-17.14, 3.8,-17.15, 3.85,-17.16,
   3.9,-17.18, 3.95,-17.19, 4.0,-17.2, 4.05,-17.21, 4.1,-17.225]
];
var p23NirDots = [1.25,-16.808, 1.645,-16.54, 2.17,-16.625, 3.59,-17.205, 4.52,-17.44];
var p23NirModelDots = [4.52,-17.375];

var p23SedRed = [0.8,-17.98, 0.85,-17.75, 0.9,-17.58, 0.95,-17.42, 1.02,-17.26, 1.1,-17.07, 1.2,-16.888, 1.3,-16.74, 1.42,-16.62,
  1.55,-16.55, 1.64,-16.516, 1.75,-16.52, 1.9,-16.543, 2.15,-16.62, 2.25,-16.67, 2.33,-16.73, 2.45,-16.76, 2.64,-16.78, 2.8,-16.82,
  2.99,-16.86, 3.2,-16.93, 3.39,-17.02, 3.6,-17.11, 3.83,-17.21, 4.1,-17.3, 4.43,-17.39, 4.8,-17.46, 5.13,-17.53, 5.8,-17.63,
  6.3,-17.71, 6.84,-17.82, 7.3,-17.9, 7.74,-18.0, 8.2,-18.1, 8.6,-18.22, 9.0,-18.33, 9.53,-18.40, 10.0,-18.44, 10.8,-18.48,
  11.4,-18.53, 12.0,-18.59];
var p23SedBlack = [
  [1.9,-16.53, 2.0,-16.56, 2.1,-16.6, 2.2,-16.64, 2.28,-16.7, 2.3,-16.76, 2.33,-16.72, 2.36,-16.79, 2.4,-16.75, 2.43,-16.8, 2.47,-16.77],
  [2.9,-16.86, 2.95,-16.88, 3.0,-16.87, 3.1,-16.9, 3.2,-16.91, 3.3,-16.93, 3.4,-16.95, 3.5,-16.97, 3.6,-16.99, 3.7,-17.02, 3.8,-17.05,
   3.9,-17.08, 4.0,-17.11, 4.1,-17.15],
  [5.2,-17.56, 5.5,-17.58, 6.0,-17.66, 6.5,-17.74, 7.0,-17.84, 7.5,-17.94, 8.0,-18.05, 8.5,-18.2, 9.0,-18.32, 9.5,-18.39, 10.0,-18.44,
   11.0,-18.5, 12.0,-18.58]
];
var p23SedDots = [1.24,-16.81, 1.645,-16.54, 2.15,-16.62, 3.55,-17.21, 4.5,-17.43, 5.75,-17.65, 7.8,-18.0];
var p23SedModelDots = [3.55,-17.07, 4.5,-17.37, 5.75,-17.63];

var p23MirRed = [5.0,-17.516, 5.05,-17.53, 5.1,-17.543, 5.15,-17.537, 5.19,-17.538, 5.21,-17.554, 5.26,-17.556, 5.32,-17.57, 5.4,-17.585,
  5.47,-17.597, 5.53,-17.608, 5.6,-17.62, 5.66,-17.63, 5.72,-17.64, 5.8,-17.653, 5.86,-17.666, 5.93,-17.677, 6.0,-17.69, 6.1,-17.71,
  6.2,-17.726, 6.3,-17.74, 6.38,-17.75, 6.45,-17.758, 6.55,-17.775, 6.63,-17.79, 6.75,-17.81, 6.9,-17.844, 7.02,-17.865, 7.14,-17.88,
  7.26,-17.9, 7.39,-17.92, 7.52,-17.945, 7.65,-17.973, 7.75,-17.995, 7.83,-18.02, 7.87,-18.012, 7.92,-18.03, 8.0,-18.05];
var p23MirBlack = [5.16,-17.597, 5.2,-17.58, 5.23,-17.57, 5.28,-17.567, 5.32,-17.567, 5.38,-17.577, 5.44,-17.586, 5.5,-17.598,
  5.58,-17.612, 5.65,-17.625, 5.72,-17.638, 5.78,-17.646, 5.83,-17.65, 5.9,-17.668, 5.97,-17.685, 6.06,-17.704, 6.12,-17.71,
  6.16,-17.715, 6.2,-17.73, 6.25,-17.728, 6.3,-17.735, 6.34,-17.73, 6.38,-17.745, 6.45,-17.76, 6.52,-17.78, 6.58,-17.785, 6.63,-17.79,
  6.7,-17.8, 6.75,-17.81, 6.8,-17.825, 6.83,-17.833, 6.88,-17.84, 6.95,-17.855, 7.0,-17.865, 7.06,-17.871, 7.12,-17.88, 7.18,-17.887,
  7.22,-17.9, 7.26,-17.919, 7.3,-17.91, 7.35,-17.912, 7.39,-17.914, 7.45,-17.93, 7.51,-17.946, 7.53,-17.975, 7.56,-17.955, 7.65,-17.973,
  7.72,-18.0, 7.78,-18.016, 7.85,-18.025, 7.92,-18.035, 8.0,-18.059];
var p23MirDots = [5.72,-17.658, 7.87,-18.01];
var p23MirModelDots = [5.72,-17.64, 7.87,-18.027];

var p23LmRed = [
  [2.0,-16.566, 2.03,-16.575, 2.06,-16.58, 2.08,-16.6, 2.09,-16.585, 2.11,-16.59, 2.13,-16.6, 2.15,-16.605, 2.16,-16.62, 2.17,-16.61,
   2.19,-16.62, 2.21,-16.63, 2.22,-16.625, 2.24,-16.635, 2.26,-16.64, 2.27,-16.655, 2.28,-16.65, 2.29,-16.655, 2.295,-16.785, 2.3,-16.7,
   2.31,-16.69, 2.32,-16.7, 2.33,-16.82, 2.335,-16.71, 2.35,-16.72, 2.36,-16.74, 2.365,-16.87, 2.37,-16.74, 2.38,-16.75, 2.39,-16.76,
   2.395,-16.84, 2.4,-16.76, 2.41,-16.77, 2.42,-16.85, 2.425,-16.77, 2.44,-16.78, 2.45,-16.78, 2.455,-16.86, 2.46,-16.78, 2.48,-16.79,
   2.485,-16.84, 2.49,-16.78, 2.5,-16.8, 2.51,-16.79],
  [2.9,-16.89, 2.92,-16.92, 2.95,-16.93, 2.98,-16.935, 3.0,-16.94, 3.03,-16.94, 3.05,-16.96, 3.08,-16.945, 3.1,-16.955, 3.15,-16.955,
   3.2,-16.965, 3.25,-16.97, 3.3,-16.975, 3.35,-16.98, 3.4,-16.99, 3.45,-17.0, 3.5,-17.015, 3.55,-17.03, 3.6,-17.04, 3.65,-17.055,
   3.7,-17.075, 3.75,-17.09, 3.8,-17.11, 3.85,-17.125, 3.9,-17.145, 3.95,-17.165, 4.0,-17.2]
];
var p23LmBlue = [2.9,-16.847, 2.91,-16.86, 2.93,-16.855, 2.95,-16.875, 2.97,-16.865, 3.0,-16.885, 3.03,-16.88, 3.05,-16.895, 3.08,-16.89,
  3.1,-16.905, 3.13,-16.9, 3.17,-16.916, 3.2,-16.925, 3.23,-16.93, 3.26,-16.945, 3.3,-16.96, 3.33,-16.965, 3.36,-16.98, 3.4,-16.99,
  3.45,-17.005, 3.5,-17.02, 3.55,-17.035, 3.6,-17.045, 3.65,-17.06, 3.7,-17.08, 3.75,-17.095, 3.8,-17.11, 3.85,-17.125, 3.9,-17.14,
  3.95,-17.16, 4.0,-17.19];
var p23LmBlack = [
  [2.0,-16.57, 2.05,-16.58, 2.1,-16.59, 2.2,-16.625, 2.22,-16.62, 2.28,-16.65],
  [2.9,-16.9, 2.92,-16.93, 2.95,-16.935, 2.98,-16.95, 3.0,-16.955, 3.03,-16.96, 3.05,-16.975, 3.08,-16.97, 3.1,-16.98, 3.15,-16.99,
   3.17,-16.995, 3.2,-17.0, 3.25,-17.015, 3.3,-17.03, 3.33,-17.04, 3.35,-17.095, 3.37,-17.04, 3.4,-17.05, 3.45,-17.06, 3.5,-17.065,
   3.55,-17.07, 3.6,-17.075, 3.63,-17.06, 3.65,-17.08, 3.7,-17.1, 3.75,-17.11, 3.8,-17.125, 3.85,-17.14, 3.9,-17.15, 3.95,-17.17, 4.0,-17.19]
];
var p23LmDots = [3.55,-17.204];

var p23SiBlue = [8.0,-18.043, 8.14,-18.058, 8.39,-18.09, 8.66,-18.121, 8.99,-18.168, 9.5,-18.235, 9.99,-18.298, 10.43,-18.355,
  11.0,-18.433, 11.43,-18.485, 12.0,-18.553];
var p23SiRed = [8.0,-18.053, 8.24,-18.095, 8.5,-18.142, 8.66,-18.173, 8.88,-18.23, 8.99,-18.277, 9.21,-18.34, 9.5,-18.407, 9.8,-18.444,
  10.12,-18.475, 10.43,-18.496, 10.77,-18.517, 11.1,-18.532, 11.43,-18.553, 12.0,-18.59];
var p23SiBlack = [8.0,-18.064, 8.14,-18.09, 8.25,-18.12, 8.33,-18.147, 8.42,-18.155, 8.5,-18.168, 8.6,-18.19, 8.7,-18.21, 8.8,-18.228,
  8.88,-18.24, 8.99,-18.27, 9.1,-18.305, 9.21,-18.34, 9.35,-18.38, 9.5,-18.413, 9.6,-18.43, 9.7,-18.445, 9.8,-18.452, 9.9,-18.465,
  10.0,-18.48, 10.12,-18.49, 10.24,-18.5, 10.37,-18.525, 10.5,-18.49, 10.6,-18.5, 10.77,-18.515, 10.97,-18.535, 11.05,-18.525,
  11.15,-18.53, 11.3,-18.545, 11.43,-18.55, 11.55,-18.555, 11.7,-18.57, 11.85,-18.575, 11.92,-18.565, 12.0,-18.59];

var p23Tau = [
  [1.92,-0.097, 1.94,-0.02, 1.96,-0.06, 1.98,0.0, 2.0,-0.03, 2.02,0.01, 2.05,-0.01, 2.08,0.015, 2.1,-0.005, 2.13,0.01, 2.16,-0.01,
   2.19,0.012, 2.22,0.0, 2.25,0.02, 2.28,-0.01, 2.3,0.025, 2.32,-0.03, 2.34,0.03, 2.36,-0.05, 2.38,0.04, 2.4,-0.145, 2.41,0.035,
   2.42,-0.08, 2.43,0.055, 2.44,-0.1, 2.45,0.05, 2.47,-0.02, 2.49,0.03, 2.51,0.0],
  [2.93,0.158, 2.94,0.207, 2.95,0.1, 2.97,0.14, 3.0,0.09, 3.03,0.13, 3.06,0.08, 3.1,0.12, 3.13,0.07, 3.16,0.11, 3.2,0.06, 3.24,0.09,
   3.28,0.04, 3.32,0.07, 3.36,0.02, 3.4,0.04, 3.44,0.0, 3.48,0.02, 3.52,-0.02, 3.56,0.01, 3.6,-0.03, 3.65,0.0, 3.7,-0.04, 3.75,-0.01,
   3.8,-0.05, 3.85,-0.02, 3.9,-0.06, 3.95,-0.03, 4.0,-0.07, 4.04,-0.04, 4.08,-0.145, 4.09,0.0],
  [5.22,0.062, 5.3,-0.007, 5.4,0.01, 5.5,-0.01, 5.6,0.005, 5.7,-0.005, 5.8,0.012, 5.9,-0.01, 6.0,0.008, 6.1,-0.01, 6.2,0.01, 6.3,-0.02,
   6.43,-0.034, 6.55,0.0, 6.65,-0.02, 6.75,0.02, 6.85,-0.025, 6.95,0.03, 7.05,-0.02, 7.15,0.025, 7.25,-0.03, 7.35,0.02, 7.45,-0.02,
   7.55,0.01, 7.65,-0.03, 7.75,0.0, 7.94,0.01, 8.3,0.048, 8.48,0.124, 8.9,0.193, 9.17,0.283, 9.47,0.352, 9.8,0.38, 10.0,0.37,
   10.1,0.375, 10.25,0.35, 10.44,0.27, 10.7,0.22, 10.97,0.2, 11.2,0.17, 11.5,0.145, 11.8,0.11, 12.1,0.083, 12.4,0.06, 12.7,0.048,
   13.0,0.07, 13.3,0.06, 13.6,0.04, 14.0,0.028, 14.3,0.05, 14.7,0.076, 14.9,0.0, 15.2,0.16, 15.5,0.02, 15.7,0.0, 15.9,0.1, 16.2,-0.09,
   16.4,0.076, 16.6,-0.186, 16.8,-0.117, 17.0,0.05, 17.2,0.076, 17.5,0.317, 17.8,-0.103, 18.1,0.1, 18.4,-0.186, 18.7,0.214, 18.9,-0.02,
   19.2,0.255, 19.5,-0.186, 19.8,0.49, 20.0,-0.1, 20.2,0.1, 20.5,0.393]
];

// y tick values and their printed labels, panel by panel (row, column)
var yT = [
  [-16.0,-16.2,-16.4,-16.6,-16.8], [-16.0,-16.5,-17.0,-17.5,-18.0,-18.5,-19.0], [-16.9,-17.0,-17.1,-17.2,-17.3,-17.4],
  [-16.0,-16.1,-16.2,-16.3,-16.4,-16.5,-16.6], [-17.4,-17.5,-17.6,-17.7,-17.8,-17.9], [-0.1,0.0,0.1,0.2,0.3,0.4],
  [-16.4,-16.6,-16.8,-17.0,-17.2,-17.4], [-16.0,-16.5,-17.0,-17.5,-18.0,-18.5,-19.0], [-17.2,-17.3,-17.4,-17.5,-17.6,-17.7],
  [-16.4,-16.5,-16.6,-16.7,-16.8,-16.9,-17.0,-17.1], [-17.7,-17.8,-17.9,-18.0,-18.1], [-0.2,-0.1,0.0,0.1,0.2,0.3,0.4,0.5],
  [-16.6,-16.8,-17.0,-17.2,-17.4], [-16.5,-17.0,-17.5,-18.0,-18.5,-19.0], [-17.5,-17.6,-17.7,-17.8,-17.9,-18.0],
  [-16.6,-16.7,-16.8,-16.9,-17.0,-17.1,-17.2], [-18.1,-18.2,-18.3,-18.4,-18.5,-18.6], [-0.2,-0.1,0.0,0.1,0.2,0.3,0.4]
];
var yL = [
  ['−16.0','−16.2','−16.4','−16.6','−16.8'], ['−16.0','−16.5','−17.0','−17.5','18.0','−18.5','−19.0'], ['−16.9','17.0','−17.1','17.2','−17.3','17.4'],
  ['−16.0','−16.1','−16.2','−16.3','−16.4','−16.5','−16.6'], ['−17.4','−17.5','−17.6','17.7','−17.8','−17.9'], ['−0.1','0.0','0.1','0.2','0.3','0.4'],
  ['−16.4','−16.6','−16.8','−17.0','−17.2','−17.4'], ['−16.0','16.5','17.0','−17.5','−18.0','−18.5','−19.0'], ['−17.2','17.3','−17.4','−17.5','17.6','−17.7'],
  ['−16.4','−16.5','−16.6','16.7','−16.8','−16.9','−17.0','−17.1'], ['−17.7','−17.8','−17.9','−18.0','18.1'], ['−0.2','−0.1','0.0','0.1','0.2','0.3','0.4','0.5'],
  ['−16.6','−16.8','−17.0','−17.2','−17.4'], ['−16.5','−17.0','−17.5','−18.0','18.5','−19.0'], ['17.5','17.6','17.7','17.8','−17.9','−18.0'],
  ['−16.6','−16.7','−16.8','16.9','−17.0','17.1','−17.2'], ['18.1','−18.2','18.3','−18.4','−18.5','−18.6'], ['−0.2','0.1','0.0','0.1','0.2','0.3','0.4']
];

// ---------- layout ----------
var FONT = 'Liberation Serif';
var ROW_TOP = [12, 223, 435, 647, 860, 1071], ROW_H = 179;
var COL = {nir: [65, 258], sed: [367, 275], mir: [690, 277], tau: [701, 265]};
var RED = '#ff0000', BLUE = '#0000ff', BLACK = '#000000';

function xy(a) { var o = []; for (var i = 0; i < a.length; i += 2) o.push([a[i], a[i + 1]]); return o; }
function line(a, c, w) { return {kind: 'line', data: xy(a), color: c, width: w}; }
function segs(list, c, w) { return list.map(function (a) { return line(a, c, w); }); }
function dots(a, c, s) { return {kind: 'dots', data: xy(a), color: c, size: s}; }

var panels = [
  {row: 0, col: 'nir', x: [0.926, 4.89], xt: nirTicks, xl: nirLabels, y: [-16.84, -15.93], tag: tags[0], yname: 'flux',
   s: [].concat(segs(p21NirBlack, BLACK, 1.5), segs(p21NirRed, RED, 1.5), [dots(p21NirDots, BLACK, 4)])},
  {row: 0, col: 'sed', x: [0.8, 12], xt: sedTicks, xl: sedLabels, y: [-19.0, -15.535], tag: tags[1],
   s: [].concat(segs(p21SedBlack, BLACK, 1.3), [line(p21SedRed, RED, 1), dots(p21SedModelDots, RED, 4), dots(p21SedDots, BLACK, 5)])},
  {row: 0, col: 'mir', x: [5, 8], xt: mirTicks, xl: mirLabels, y: [-17.457, -16.853], tag: tags[1],
   s: [line(p21MirRed, RED, 1.1), line(p21MirBlack, BLACK, 1.6), dots(p21MirModelDots, RED, 4), dots(p21MirDots, BLACK, 4)]},
  {row: 1, col: 'nir', x: [2, 4], xt: lmTicks, xl: lmLabels, y: [-16.637, -15.97], tag: tags[1], yname: 'flux',
   s: [].concat(segs(p21LmBlack, BLACK, 1), [line(p21LmBlue, BLUE, 1)], segs(p21LmRed, RED, 1), [dots(p21LmDots, BLACK, 4)])},
  {row: 1, col: 'sed', x: [8, 12], xt: siTicks, xl: siLabels, y: [-17.957, -17.387], tag: tags[1],
   s: [line(p21SiBlue, BLUE, 1.2), line(p21SiRed, RED, 1), line(p21SiBlack, BLACK, 1.6)]},
  {row: 1, col: 'tau', x: [2.0, 21.4], xt: tauTicks, xl: tauLabels, y: [-0.141, 0.442], inv: true, tag: tags[1], yname: 'tau',
   s: segs(p21Tau, BLACK, 0.8)},

  {row: 2, col: 'nir', x: [0.914, 5.39], xt: nir5Ticks, xl: nir5Labels, y: [-17.507, -16.32], tag: tags[2], yname: 'flux',
   s: [].concat(segs(p22NirBlack, BLACK, 1.5), segs(p22NirRed, RED, 1.5), [dots(p22NirModelDots, RED, 4), dots(p22NirDots, BLACK, 4)])},
  {row: 2, col: 'sed', x: [0.8, 12], xt: sedTicks, xl: sedLabels, y: [-19.0, -15.785], tag: tags[3],
   s: [].concat(segs(p22SedBlack, BLACK, 1.1), [line(p22SedRed, RED, 1), dots(p22SedModelDots, RED, 4), dots(p22SedDots, BLACK, 5)])},
  {row: 2, col: 'mir', x: [5, 8], xt: mirTicks, xl: mirLabels, y: [-17.718, -17.17], tag: tags[3],
   s: [line(p22MirRed, RED, 1.1), line(p22MirBlack, BLACK, 1.6), dots(p22MirModelDots, RED, 4), dots(p22MirDots, BLACK, 4)]},
  {row: 3, col: 'nir', x: [2, 4], xt: lmTicks, xl: lmLabels, y: [-17.138, -16.379], tag: tags[3], yname: 'flux',
   s: [].concat([line(p22LmBlue, BLUE, 1)], segs(p22LmBlack, BLACK, 1), segs(p22LmRed, RED, 1),
                [dots(p22LmModelDots, RED, 4), dots(p22LmDots, BLACK, 4)])},
  {row: 3, col: 'sed', x: [8, 12], xt: siTicks, xl: siLabels, y: [-18.185, -17.68], tag: tags[3],
   s: [line(p22SiBlue, BLUE, 1.2), line(p22SiRed, RED, 1), line(p22SiBlack, BLACK, 1.6)]},
  {row: 3, col: 'tau', x: [1.99, 22.9], xt: tauTicks, xl: tauLabels, y: [-0.274, 0.504], inv: true, tag: tags[3], yname: 'tau',
   s: segs(p22Tau, BLACK, 0.8)},

  {row: 4, col: 'nir', x: [0.914, 5.39], xt: nir5Ticks, xl: nir5Labels, y: [-17.59, -16.453], tag: tags[4], yname: 'flux',
   s: [].concat(segs(p23NirBlack, BLACK, 1.5), segs(p23NirRed, RED, 1.5), [dots(p23NirModelDots, RED, 4), dots(p23NirDots, BLACK, 4)])},
  {row: 4, col: 'sed', x: [0.8, 12], xt: sedTicks, xl: sedLabels, y: [-19.0, -16.145], tag: tags[5],
   s: [].concat(segs(p23SedBlack, BLACK, 1.3), [line(p23SedRed, RED, 1), dots(p23SedModelDots, RED, 4), dots(p23SedDots, BLACK, 5)])},
  {row: 4, col: 'mir', x: [5, 8], xt: mirTicks, xl: mirLabels, y: [-18.077, -17.5], tag: tags[5],
   s: [line(p23MirRed, RED, 1.1), line(p23MirBlack, BLACK, 1.6), dots(p23MirModelDots, RED, 4), dots(p23MirDots, BLACK, 4)]},
  {row: 5, col: 'nir', x: [2, 4], xt: lmTicks, xl: lmLabels, y: [-17.237, -16.5], tag: tags[5], yname: 'flux',
   s: [].concat(segs(p23LmBlack, BLACK, 1), [line(p23LmBlue, BLUE, 1)], segs(p23LmRed, RED, 1), [dots(p23LmDots, BLACK, 4)])},
  {row: 5, col: 'sed', x: [8, 12], xt: siTicks, xl: siLabels, y: [-18.603, -18.044], tag: tags[5],
   s: [line(p23SiBlue, BLUE, 1.2), line(p23SiRed, RED, 1), line(p23SiBlack, BLACK, 1.6)]},
  {row: 5, col: 'tau', x: [1.73, 23.1], xt: tauTicks, xl: tauLabels, y: [-0.25, 0.49], inv: true, tag: tags[5], yname: 'tau',
   s: segs(p23Tau, BLACK, 0.8)}
];

var grids = [], xAxes = [], yAxes = [], series = [], graphics = [];
panels.forEach(function (p, i) {
  var c = COL[p.col], top = ROW_TOP[p.row];
  grids.push({left: c[0], top: top, width: c[1], height: ROW_H, show: true, borderColor: '#8a8a8a', borderWidth: 1});

  xAxes.push({
    gridIndex: i, type: 'log', logBase: 10, min: p.x[0], max: p.x[1],
    axisLine: {show: true, onZero: false, lineStyle: {color: '#000', width: 1.3}},
    axisTick: {show: true, customValues: p.xt, length: 5, lineStyle: {color: '#000', width: 1.3}},
    axisLabel: {show: true, customValues: p.xl, margin: 8, fontFamily: FONT, fontSize: 11, color: '#222',
      formatter: function (v) { return String(parseFloat((+v).toFixed(2))); }},
    splitLine: {show: false}, minorTick: {show: false},
    name: p.row === 5 ? 'λ (µm)' : '', nameLocation: 'middle', nameGap: 20,
    nameTextStyle: {fontFamily: FONT, fontSize: 16, color: '#222'}
  });

  var yt = yT[i], yl = yL[i];
  var y = {
    gridIndex: i, type: 'value', min: p.y[0], max: p.y[1], inverse: !!p.inv, scale: true,
    axisLine: {show: true, onZero: false, lineStyle: {color: '#8a8a8a', width: 1}},
    axisTick: {show: true, customValues: yt, length: 5, lineStyle: {color: '#000', width: 1.3}},
    axisLabel: {show: true, customValues: yt, margin: 7, fontFamily: FONT, fontSize: 11, color: '#222',
      formatter: function (v) {
        for (var k = 0; k < yt.length; k++) if (Math.abs(yt[k] - v) < 1e-6) return yl[k];
        return '';
      }},
    splitLine: {show: false}
  };
  if (p.yname === 'flux') {
    y.name = 'Log(λF{s|λ} [W/cm{p|2}])';
    y.nameLocation = 'middle'; y.nameRotate = 90; y.nameGap = 31; y.nameMoveOverlap = false;
    y.nameTextStyle = {fontFamily: FONT, fontSize: 16, color: '#222', lineHeight: 22,
      rich: {s: {fontFamily: FONT, fontSize: 11, color: '#222', verticalAlign: 'bottom', lineHeight: 22},
             p: {fontFamily: FONT, fontSize: 10, color: '#222', verticalAlign: 'top', lineHeight: 22}}};
  } else if (p.yname === 'tau') {
    y.name = 'Optical Depth';
    y.nameLocation = 'middle'; y.nameRotate = 90; y.nameGap = 29; y.nameMoveOverlap = false;
    y.nameTextStyle = {fontFamily: FONT, fontSize: 16, color: '#222'};
  }
  yAxes.push(y);

  p.s.forEach(function (s, j) {
    if (s.kind === 'line') {
      var ser = {type: 'line', xAxisIndex: i, yAxisIndex: i, data: s.data, showSymbol: false, symbol: 'none',
        lineStyle: {color: s.color, width: s.width}, itemStyle: {color: s.color}, animation: false, silent: true, z: 2 + j * 0.01};
      if (p.yname === 'tau' && j === 0) {
        ser.markLine = {silent: true, symbol: ['none', 'none'], label: {show: false}, animation: false,
          lineStyle: {color: '#000', width: 1.6, type: [6, 4]}, data: [{yAxis: 0}]};
      }
      series.push(ser);
    } else {
      series.push({type: 'scatter', xAxisIndex: i, yAxisIndex: i, data: s.data, symbol: 'circle', symbolSize: s.size,
        itemStyle: {color: s.color}, animation: false, silent: true, z: 5});
    }
  });

  graphics.push({type: 'text', left: c[0] + 3, top: top + ROW_H - 19, z: 100,
    style: {text: p.tag, fontFamily: FONT, fontSize: 14, fill: '#111'}});
});

var chart = echarts.init(document.getElementById('chart'), null, {renderer: 'canvas'});
chart.setOption({
  backgroundColor: '#ffffff',
  animation: false,
  textStyle: {fontFamily: FONT},
  grid: grids,
  xAxis: xAxes,
  yAxis: yAxes,
  series: series,
  graphic: graphics
});
</script>
</body>
</html>
